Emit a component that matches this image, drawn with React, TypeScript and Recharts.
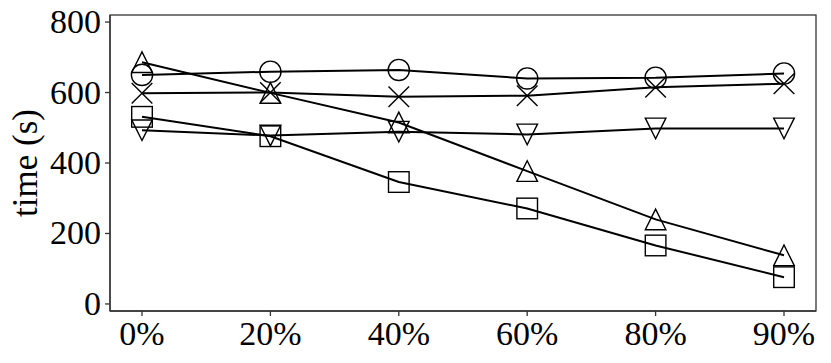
import React from 'react';
import { LineChart, Line, XAxis, YAxis, usePlotArea } from 'recharts';

const categories = ['0%', '20%', '40%', '60%', '80%', '90%'];
const circleSeries = [650, 659, 664, 640, 642, 654];
const crossSeries = [598, 600, 588, 591, 615, 625];
const triUpSeries = [686, 599, 515, 377, 240, 138];
const triDownSeries = [493, 478, 489, 481, 498, 498];
const squareSeries = [531, 476, 346, 271, 166, 76];
const yTicks = [0, 200, 400, 600, 800];

const data = categories.map((c, i) => ({
  cat: c,
  circle: circleSeries[i],
  cross: crossSeries[i],
  up: triUpSeries[i],
  down: triDownSeries[i],
  square: squareSeries[i],
}));

const FONT = 'Liberation Serif, DejaVu Serif, serif';
const MS = 10.3;
const mStroke = { stroke: '#000', strokeWidth: 1.4, fill: 'none' };
const frame = '#333';

const CircleDot = (p: any) => <circle key={p.index} cx={p.cx} cy={p.cy} r={MS + 0.3} {...mStroke} />;
const CrossDot = (p: any) => (
  <g key={p.index}>
    <line x1={p.cx - MS} y1={p.cy - MS} x2={p.cx + MS} y2={p.cy + MS} {...mStroke} />
    <line x1={p.cx - MS} y1={p.cy + MS} x2={p.cx + MS} y2={p.cy - MS} {...mStroke} />
  </g>
);
const UpDot = (p: any) => (
  <polygon key={p.index} points={`${p.cx},${p.cy - MS} ${p.cx - MS},${p.cy + MS} ${p.cx + MS},${p.cy + MS}`} {...mStroke} />
);
const DownDot = (p: any) => (
  <polygon key={p.index} points={`${p.cx},${p.cy + MS} ${p.cx - MS},${p.cy - MS} ${p.cx + MS},${p.cy - MS}`} {...mStroke} />
);
const SquareDot = (p: any) => (
  <rect key={p.index} x={p.cx - MS} y={p.cy - MS} width={MS * 2} height={MS * 2} {...mStroke} />
);

const XTick = (p: any) => (
  <text x={p.x} y={p.y} dy={24} textAnchor="middle" style={{ fontFamily: FONT, fontSize: 34 }} fill="#000">
    {p.payload.value}
  </text>
);
const YTick = (p: any) => (
  <text x={p.x} y={p.y} dy={11} textAnchor="end" style={{ fontFamily: FONT, fontSize: 34 }} fill="#000">
    {p.payload.value}
  </text>
);

const YLabel = (props: any) => {
  const vb = props.viewBox || {};
  const cx = 26;
  const cy = (vb.y ?? 15) + (vb.height ?? 296) / 2;
  return (
    <text x={cx} y={cy} transform={`rotate(-90, ${cx}, ${cy})`} textAnchor="middle" dy={11}
      style={{ fontFamily: FONT, fontSize: 35 }} fill="#000">time (s)</text>
  );
};

const Frame = () => {
  const area = usePlotArea ? usePlotArea() : null;
  if (!area) return null;
  return <rect x={area.x} y={area.y} width={area.width} height={area.height} fill="none" stroke={frame} strokeWidth={1.3} />;
};

export default function App() {
  return (
    <div style={{ position: 'absolute', left: 0, top: 0, width: 831, height: 363, background: '#fff' }}>
      <LineChart width={831} height={363} data={data} margin={{ top: 15, right: 15, left: 0, bottom: 0 }}>
        <XAxis dataKey="cat" height={52} padding={{ left: 32, right: 32 }} tickSize={5} tickMargin={5}
          axisLine={{ stroke: frame, strokeWidth: 1.3 }} tickLine={{ stroke: frame, strokeWidth: 1.3 }}
          tick={<XTick />} interval={0} />
        <YAxis width={110} domain={[-20, 820]} ticks={yTicks} tickSize={5} tickMargin={4} type="number"
          axisLine={{ stroke: frame, strokeWidth: 1.3 }} tickLine={{ stroke: frame, strokeWidth: 1.3 }}
          tick={<YTick />} label={<YLabel />} interval={0} />
        <Line dataKey="circle" stroke="#000" strokeWidth={2} dot={CircleDot} isAnimationActive={false} type="linear" />
        <Line dataKey="cross" stroke="#000" strokeWidth={2} dot={CrossDot} isAnimationActive={false} type="linear" />
        <Line dataKey="up" stroke="#000" strokeWidth={2} dot={UpDot} isAnimationActive={false} type="linear" />
        <Line dataKey="down" stroke="#000" strokeWidth={2} dot={DownDot} isAnimationActive={false} type="linear" />
        <Line dataKey="square" stroke="#000" strokeWidth={2} dot={SquareDot} isAnimationActive={false} type="linear" />
        <Frame />
      </LineChart>
    </div>
  );
}
